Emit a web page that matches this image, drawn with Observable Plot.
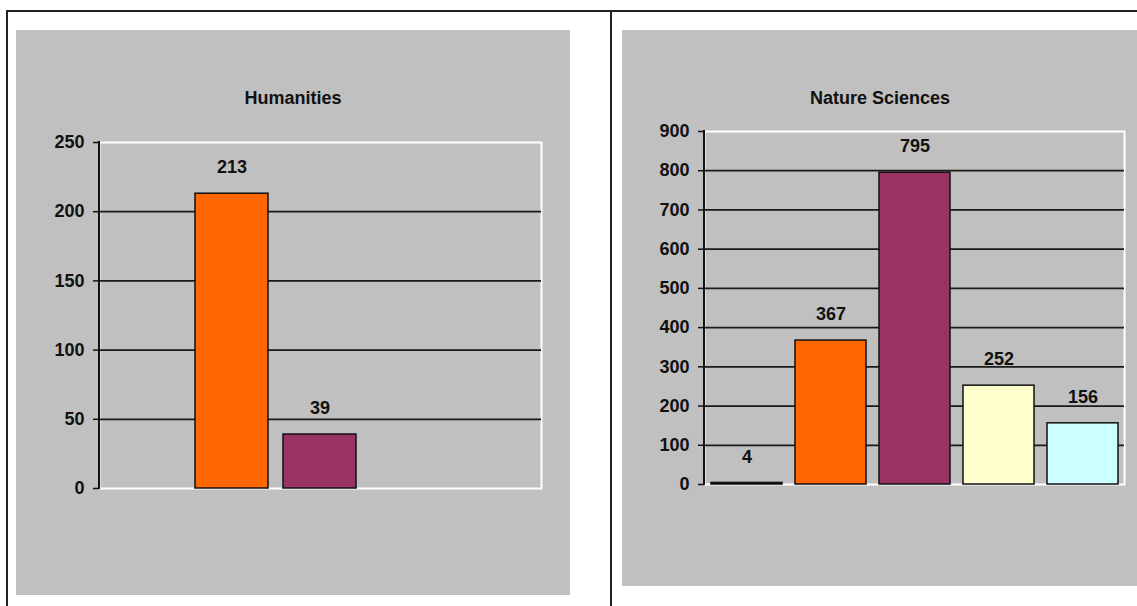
<!DOCTYPE html>
<html>
<head>
<meta charset="utf-8">
<script src="https://cdn.jsdelivr.net/npm/d3@7"></script>
<script src="https://cdn.jsdelivr.net/npm/@observablehq/plot@0.6"></script>
<style>
  html, body { margin: 0; padding: 0; background: #fff; }
  body { width: 1137px; height: 606px; overflow: hidden; position: relative; font-family: "Liberation Sans", Arial, sans-serif; }
  .box { position: absolute; border: 2px solid #222; box-sizing: border-box; }
  .panel { position: absolute; background: #c0c0c0; }
  .title { position: absolute; left: 0; right: 0; text-align: center; font-weight: bold; font-size: 18px; color: #111; }
  .panel svg { position: absolute; left: 0; top: 0; background: transparent; }
</style>
</head>
<body>
<div class="box" style="left:6px; top:10px; width:1140px; height:610px;"></div>
<div class="box" style="left:610px; top:10px; width:540px; height:610px;"></div>
<div class="panel" id="left" style="left:16px; top:30px; width:554px; height:565px;">
  <div class="title" style="top:58px;">Humanities</div>
</div>
<div class="panel" id="right" style="left:622px; top:30px; width:516px; height:556px;">
  <div class="title" style="top:58px;">Nature Sciences</div>
</div>
<script>
const categories = ["c1", "c2", "c3", "c4", "c5"];
const barColors = ["#000000", "#ff6600", "#993366", "#ffffcc", "#ccffff"];
const humanitiesValues = [null, 213, 39, null, null];
const natureValues = [4, 367, 795, 252, 156];
const humanitiesTicks = [0, 50, 100, 150, 200, 250];
const natureTicks = [0, 100, 200, 300, 400, 500, 600, 700, 800, 900];

function makeChart(values, ticks, opts) {
  const data = categories.map((c, i) => ({cat: c, value: values[i], color: barColors[i]}))
    .filter(d => d.value != null);
  const top = ticks[ticks.length - 1];
  return Plot.plot({
    width: opts.width,
    height: opts.height,
    marginLeft: opts.ml,
    marginRight: opts.mr,
    marginTop: opts.mt,
    marginBottom: opts.mb,
    style: {background: "transparent", color: "#111", fontFamily: "Liberation Sans, Arial, sans-serif", fontSize: "18px", fontWeight: "bold"},
    x: {domain: categories, paddingInner: opts.pad, paddingOuter: opts.pad / 2, axis: null},
    y: {domain: [0, top], ticks: ticks},
    marks: [
      Plot.frame({stroke: "#ffffff", strokeWidth: 2}),
      Plot.ruleY(ticks.filter(t => t > 0 && t < top), {stroke: "#1a1a1a", strokeWidth: 1.8}),
      Plot.axisY({ticks: ticks, tickSize: 6, tickPadding: 9, label: null, fontSize: 18, fontWeight: "bold", strokeWidth: 1.5}),
      Plot.barY(data, {x: "cat", y: "value", fill: "color", stroke: "#111", strokeWidth: 1.5}),
      Plot.text(data, {x: "cat", y: "value", text: d => String(d.value), dy: -26, fontSize: 18, fontWeight: "bold", fill: "#111"})
    ]
  });
}

function addAxisLine(svg, ml, mt, mb, h) {
  const ns = "http://www.w3.org/2000/svg";
  const line = document.createElementNS(ns, "line");
  line.setAttribute("x1", ml); line.setAttribute("x2", ml);
  line.setAttribute("y1", mt - 1); line.setAttribute("y2", h - mb + 1);
  line.setAttribute("stroke", "#111"); line.setAttribute("stroke-width", 2);
  svg.appendChild(line);
}

const leftOpts = {width: 554, height: 565, ml: 83, mr: 29, mt: 112, mb: 107, pad: 0.17};
const rightOpts = {width: 516, height: 556, ml: 82, mr: 14, mt: 101, mb: 102, pad: 0.155};

const leftSvg = makeChart(humanitiesValues, humanitiesTicks, leftOpts);
addAxisLine(leftSvg, leftOpts.ml, leftOpts.mt, leftOpts.mb, leftOpts.height);
document.getElementById("left").appendChild(leftSvg);

const rightSvg = makeChart(natureValues, natureTicks, rightOpts);
addAxisLine(rightSvg, rightOpts.ml, rightOpts.mt, rightOpts.mb, rightOpts.height);
document.getElementById("right").appendChild(rightSvg);
</script>
</body>
</html>
